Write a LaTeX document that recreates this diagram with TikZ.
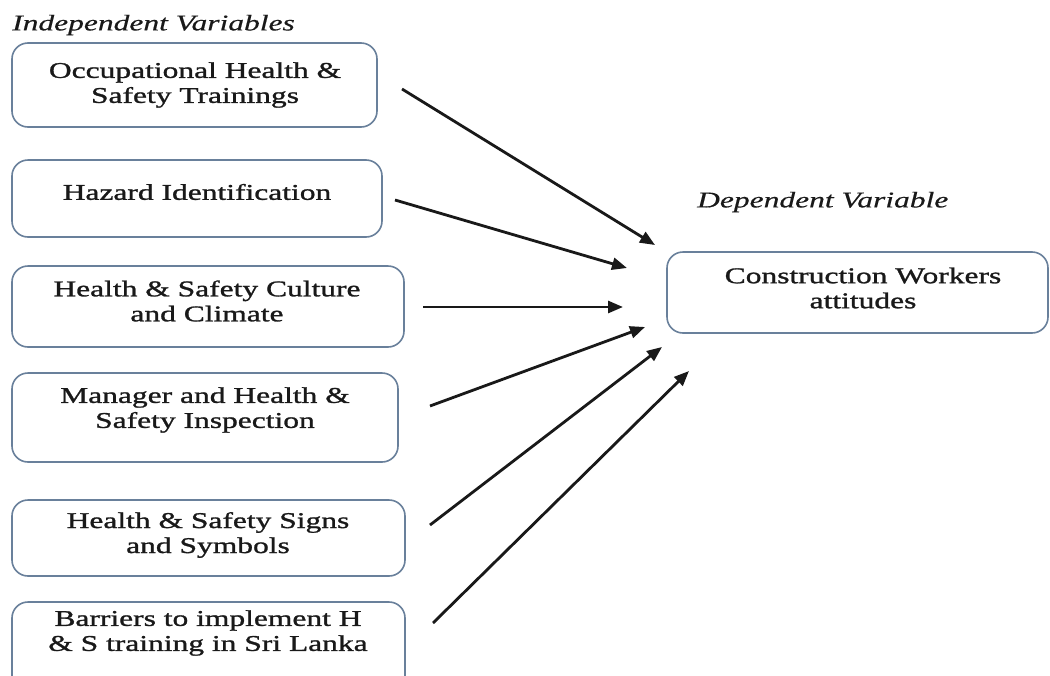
\documentclass[tikz,border=0pt]{standalone}
\usepackage{fontspec}
\setmainfont{Liberation Serif}[FakeStretch=1.40, UprightFeatures={FakeBold=1.2}, ItalicFeatures={FakeBold=0.4}]
\usetikzlibrary{arrows.meta}
\definecolor{boxedge}{RGB}{105,128,155}
\definecolor{inkc}{RGB}{25,25,25}
\begin{document}
\begin{tikzpicture}[x=1pt,y=-1pt,
  box/.style={draw=boxedge, line width=1.6pt, rounded corners=16pt, fill=white, inner sep=0pt},
  txt/.style={align=center, font=\fontsize{22.5}{25}\selectfont, text=inkc, inner sep=0pt},
  lab/.style={font=\fontsize{22.5}{25}\selectfont\itshape, text=inkc, inner sep=0pt, anchor=west},
  conn/.style={draw=inkc, line width=2.8pt, -{Triangle[length=15pt,width=12pt]}}]
\useasboundingbox (0,0) rectangle (1050,675);
\clip (0,0) rectangle (1050,675);
\fill[white] (0,0) rectangle (1050,675);

% headings
\node[lab] (hind) at (12,25) {Independent Variables};
\node[lab] (hdep) at (697,202) {Dependent Variable};

% boxes
\node[box, minimum width=365pt, minimum height=84pt] (b1) at (194.5,85) {};
\node[box, minimum width=370pt, minimum height=77pt] (b2) at (197,198.5) {};
\node[box, minimum width=392pt, minimum height=81pt] (b3) at (208,306.5) {};
\node[box, minimum width=386pt, minimum height=89pt] (b4) at (205,417.5) {};
\node[box, minimum width=393pt, minimum height=76pt] (b5) at (208.5,538) {};
\node[box, minimum width=393pt, minimum height=96pt] (b6) at (208.5,650) {};
\node[box, minimum width=381pt, minimum height=81pt] (bd) at (857.5,292.5) {};

% texts
\node[txt] (t1) at (195,85) {Occupational Health \&\\Safety Trainings};
\node[txt] (t2) at (197,192) {Hazard Identification};
\node[txt] (t3) at (207,301) {Health \& Safety Culture\\and Climate};
\node[txt] (t4) at (205,410) {Manager and Health \&\\Safety Inspection};
\node[txt] (t5) at (208,535) {Health \& Safety Signs\\and Symbols};
\node[txt] (t6) at (208,633) {Barriers to implement H\\\& S training in Sri Lanka};
\node[txt] (td) at (863,288) {Construction Workers\\attitudes};

% connector ends
\coordinate (s1) at (402,89);  \coordinate (e1) at (655,245);
\coordinate (s2) at (395,200); \coordinate (e2) at (627,268);
\coordinate (s3) at (423,307); \coordinate (e3) at (623,307);
\coordinate (s4) at (430,406); \coordinate (e4) at (645,327);
\coordinate (s5) at (430,525); \coordinate (e5) at (662,347);
\coordinate (s6) at (433,623); \coordinate (e6) at (689,371);

\draw[conn] (s1) -- (e1);
\draw[conn] (s2) -- (e2);
\draw[conn] (s3) -- (e3);
\draw[conn] (s4) -- (e4);
\draw[conn] (s5) -- (e5);
\draw[conn] (s6) -- (e6);
\end{tikzpicture}
\end{document}
